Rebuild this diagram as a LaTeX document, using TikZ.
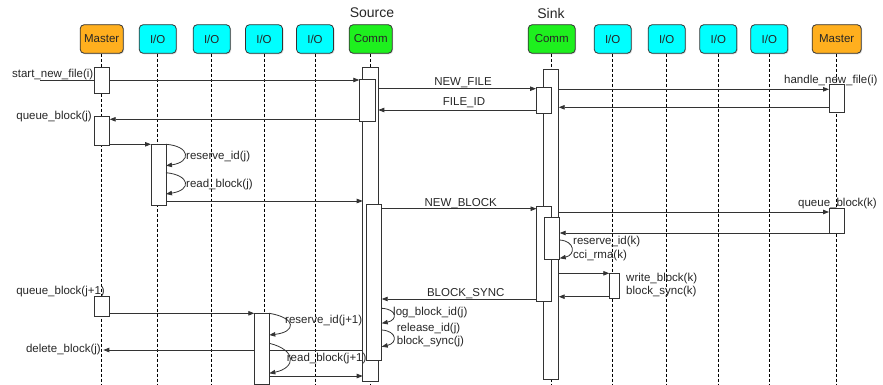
\documentclass[tikz,border=0pt]{standalone}
\usepackage{fontspec}
\setmainfont{Liberation Sans}
\usetikzlibrary{arrows.meta,shadows}
\definecolor{mastc}{HTML}{FFAF1E}
\definecolor{ioc}{HTML}{00FFFF}
\definecolor{commc}{HTML}{1EF01E}
\definecolor{linec}{HTML}{333333}
\begin{document}
\begin{tikzpicture}[x=1pt,y=-1pt,
 hdr/.style={draw=linec, line width=0.8pt, rounded corners=4pt, minimum height=28.6pt, inner sep=0pt,
   font=\fontsize{11.5}{13}\selectfont, text=black!85,
   drop shadow={shadow xshift=1pt,shadow yshift=-1pt,opacity=0.3}},
 mst/.style={hdr, fill=mastc, minimum width=43pt},
 iob/.style={hdr, fill=ioc, minimum width=37pt},
 cmb/.style={hdr, fill=commc, minimum width=45pt},
 life/.style={draw=black, line width=0.6pt, dash pattern=on 3pt off 2pt},
 act/.style={draw=linec, fill=white, line width=0.8pt, inner sep=0pt, outer sep=0pt},
 msg/.style={draw=linec, line width=0.8pt},
 msgarr/.style={msg, -{Triangle[length=6pt,width=4.5pt]}},
 lbl/.style={font=\fontsize{11.5}{13}\selectfont, inner sep=0pt, text=black!85},
 ttl/.style={font=\fontsize{14}{16}\selectfont, inner sep=0pt, text=black!85},
]
\useasboundingbox (0,0) rectangle (883,385);

% titles
\node[ttl] (tS) at (372,13) {Source};
\node[ttl] (tK) at (551,13) {Sink};

% headers
\node[mst] (hML) at (101.7,39) {Master};
\node[iob] (hI1) at (157.7,39) {I/O};
\node[iob] (hI2) at (211.7,39) {I/O};
\node[iob] (hI3) at (264,39) {I/O};
\node[iob] (hI4) at (315,39) {I/O};
\node[cmb, minimum width=43pt] (hCS) at (370.7,39) {Comm};
\node[cmb, minimum width=47pt] (hCK) at (551.7,39) {Comm};
\node[iob] (hI5) at (612.7,39) {I/O};
\node[iob] (hI6) at (666.7,39) {I/O};
\node[iob] (hI7) at (718.3,39) {I/O};
\node[iob] (hI8) at (769.3,39) {I/O};
\node[mst, minimum width=49pt] (hMR) at (836.7,39) {Master};

% lifelines
\foreach \h in {hML,hI1,hI2,hI3,hI4,hCS,hCK,hI5,hI6,hI7,hI8,hMR}{
  \draw[life] (\h.south) -- (\h.south |- 0,385);
}

% activation boxes
\node[act, minimum width=15.4pt, minimum height=25.6pt] (mA1) at (102,80.5) {};
\node[act, minimum width=15.4pt, minimum height=29pt] (mA2) at (102,130.5) {};
\node[act, minimum width=15.4pt, minimum height=19.3pt] (mA3) at (102,306.35) {};
\node[act, minimum width=15pt, minimum height=61.3pt] (ioA1) at (158.5,174.65) {};
\node[act, minimum width=15pt, minimum height=70.7pt] (ioA3) at (261.8,348.65) {};
\node[act, minimum width=15.6pt, minimum height=314pt] (sOut) at (370.5,224.7) {};
\node[act, minimum width=16.4pt, minimum height=42.7pt] (sIn1) at (367.5,100.35) {};
\node[act, minimum width=15pt, minimum height=155.7pt] (sIn2) at (374.2,282.15) {};
\node[act, minimum width=15.4pt, minimum height=310.3pt] (kOut) at (551,224.15) {};
\node[act, minimum width=15pt, minimum height=26pt] (kIn1) at (543.5,100.3) {};
\node[act, minimum width=14.8pt, minimum height=94.3pt] (kIn2) at (543.9,253.85) {};
\node[act, minimum width=15.4pt, minimum height=42.3pt] (kIn3) at (552,238.15) {};
\node[act, minimum width=10pt, minimum height=25pt] (wA) at (614.3,285.8) {};
\node[act, minimum width=15.3pt, minimum height=28pt] (rA1) at (836.65,98.3) {};
\node[act, minimum width=15.3pt, minimum height=25pt] (rA2) at (836.65,220.8) {};

% start_new_file
\coordinate (sStart) at (40,80);
\draw[msg] (sStart) -- (mA1.west |- sStart);
\draw[msgarr] (mA1.east |- 0,80) -- (sIn1.west |- 0,80);
\node[lbl, anchor=base east] (l1) at (93.5,78) {start\_new\_file(i)};

% NEW_FILE
\draw[msgarr] (sOut.east |- 0,88.7) -- (kIn1.west |- 0,88.7);
\node[lbl, anchor=base] (l2) at (463,85.8) {NEW\_FILE};
\draw[msgarr] (kOut.east |- 0,89.3) -- (rA1.west |- 0,89.3);
\node[lbl, anchor=base west] (l3) at (784,83.4) {handle\_new\_file(i)};
\draw[msgarr] (rA1.west |- 0,107.3) -- (kOut.east |- 0,107.3);
\draw[msgarr] (kIn1.west |- 0,110) -- (sOut.east |- 0,110);
\node[lbl, anchor=base] (l4) at (464,105.8) {FILE\_ID};

% queue_block(j)
\draw[msgarr] (sIn1.west |- 0,119.3) -- (mA2.east |- 0,119.3);
\node[lbl, anchor=base east] (l5) at (92,119.5) {queue\_block(j)};
\draw[msgarr] (mA2.east |- 0,144.3) -- (ioA1.west |- 0,144.3);
\draw[msgarr] (ioA1.east |- 0,144.3) .. controls (190,146) and (192,162) .. (ioA1.east |- 0,165.7);
\node[lbl, anchor=base west] (l6) at (186,159) {reserve\_id(j)};
\draw[msgarr] (ioA1.east |- 0,172.7) .. controls (190,175) and (192,190) .. (ioA1.east |- 0,194);
\node[lbl, anchor=base west] (l7) at (186,187.7) {read\_block(j)};
\draw[msgarr] (ioA1.east |- 0,201) -- (sOut.west |- 0,201);

% NEW_BLOCK
\draw[msgarr] (sIn2.east |- 0,208.7) -- (kIn2.west |- 0,208.7);
\node[lbl, anchor=base] (l8) at (460.7,206) {NEW\_BLOCK};
\draw[msgarr] (kOut.east |- 0,212) -- (rA2.west |- 0,212);
\node[lbl, anchor=base west] (l9) at (798,206) {queue\_block(k)};
\draw[msgarr] (rA2.west |- 0,233) -- (kIn3.east |- 0,233);
\draw[msgarr] (kIn3.east |- 0,240) .. controls (575,241) and (576,255) .. (kIn3.east |- 0,258.3);
\node[lbl, anchor=base west] (l10) at (573,244.3) {reserve\_id(k)};
\node[lbl, anchor=base west] (l11) at (573,258.3) {cci\_rma(k)};
\draw[msgarr] (kOut.east |- 0,273.3) -- (wA.west |- 0,273.3);
\draw[msgarr] (wA.west |- 0,296.7) -- (kOut.east |- 0,296.7);
\node[lbl, anchor=base west] (l12) at (626,281.7) {write\_block(k)};
\node[lbl, anchor=base west] (l13) at (626,294.3) {block\_sync(k)};

% BLOCK_SYNC
\draw[msgarr] (kIn2.west |- 0,299) -- (sIn2.east |- 0,299);
\node[lbl, anchor=base] (l14) at (465.7,296.7) {BLOCK\_SYNC};
\draw[msgarr] (sIn2.east |- 0,308.3) .. controls (397,309) and (398,320) .. (sIn2.east |- 0,323.3);
\node[lbl, anchor=base west] (l15) at (393,315) {log\_block\_id(j)};
\draw[msgarr] (sIn2.east |- 0,330) .. controls (397,331) and (398,343) .. (sIn2.east |- 0,346.7);
\node[lbl, anchor=base west] (l16) at (396.7,331) {release\_id(j)};
\node[lbl, anchor=base west] (l17) at (396.7,344) {block\_sync(j)};

% queue_block(j+1)
\node[lbl, anchor=base east] (l18) at (105,294.3) {queue\_block(j+1)};
\draw[msgarr] (mA3.east |- 0,313.3) -- (ioA3.west |- 0,313.3);
\draw[msgarr] (ioA3.east |- 0,313.3) .. controls (297,318) and (296,332) .. (ioA3.east |- 0,335);
\node[lbl, anchor=base west] (l19) at (285,323.3) {reserve\_id(j+1)};
\draw[msgarr] (ioA3.east |- 0,343.3) .. controls (297,350) and (296,368) .. (ioA3.east |- 0,373.3);
\node[lbl, anchor=base west] (l20) at (286.7,361) {read\_block(j+1)};

% delete_block(j)
\coordinate (dEnd) at (103.3,350);
\draw[msg] (sOut.west |- 0,350) -- (ioA3.east |- 0,350);
\draw[msgarr] (ioA3.west |- 0,350) -- (dEnd);
\node[lbl, anchor=base east] (l21) at (101,352.7) {delete\_block(j)};
\draw[msgarr] (ioA3.east |- 0,376) -- (sOut.west |- 0,376);
\end{tikzpicture}
\end{document}
